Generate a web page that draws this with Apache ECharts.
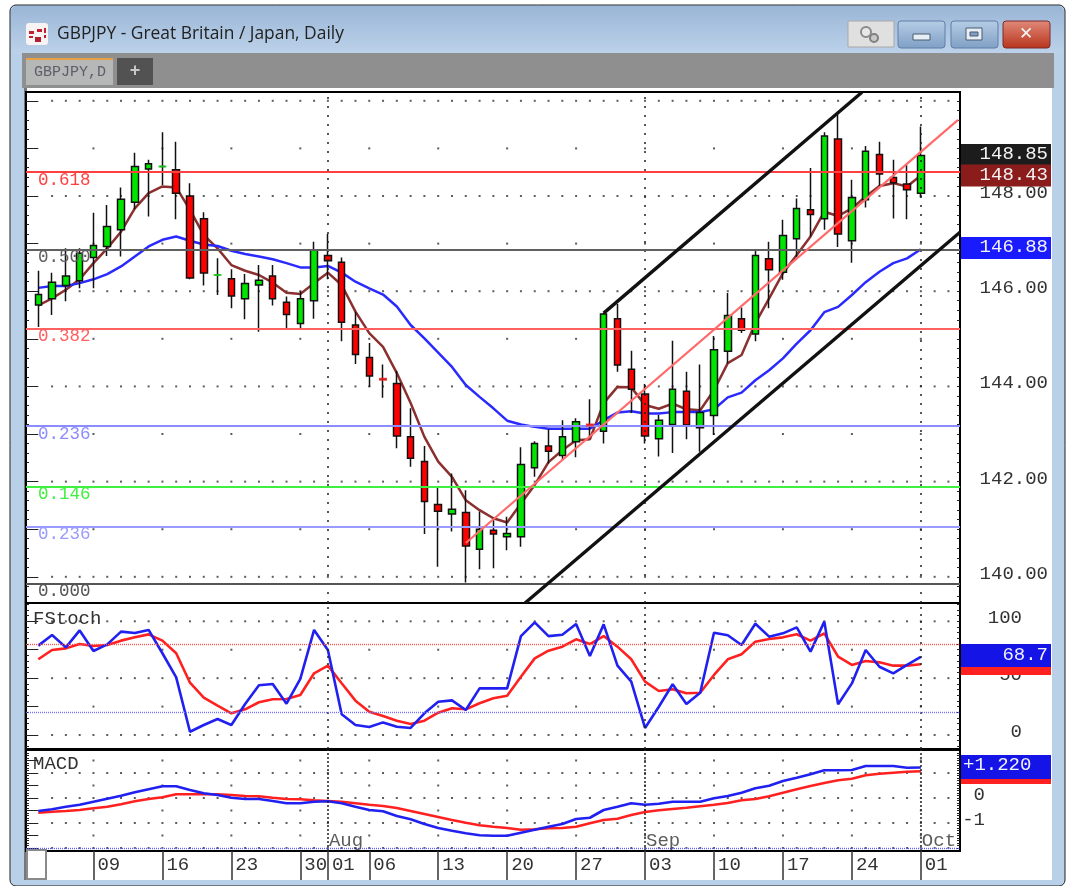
<!DOCTYPE html>
<html>
<head>
<meta charset="utf-8">
<style>
html, body { margin: 0; padding: 0; background: #fff; }
#chart { width: 1070px; height: 886px; }
</style>
<script src="https://cdn.jsdelivr.net/npm/echarts@6/dist/echarts.min.js"></script>
</head>
<body>
<div id="chart"></div>
<script>
// daily candles 3 Jul - 1 Oct, weekdays only
const opens = [145.71,145.84,146.12,146.22,146.71,146.94,147.29,147.87,148.57,148.62,
  148.55,148.00,147.52,146.34,146.26,145.84,146.13,146.32,145.77,145.32,
  145.80,146.75,146.61,145.29,144.61,144.15,144.06,142.94,142.42,141.52,
  141.32,141.35,140.58,140.98,140.84,140.84,142.29,142.75,142.55,142.84,
  143.19,143.06,145.42,144.36,143.84,142.90,143.20,143.90,143.13,143.39,
  144.74,145.42,145.10,146.68,146.40,147.10,147.71,147.52,149.20,147.06,
  147.92,148.87,148.39,148.25,148.06];
const closes = [145.93,146.19,146.32,146.80,146.96,147.36,147.93,148.62,148.68,148.62,
  148.06,146.28,146.38,146.34,145.90,146.16,146.23,145.84,145.51,145.84,
  146.87,146.64,145.35,144.67,144.22,144.15,142.96,142.49,141.58,141.38,
  141.42,140.65,141.00,140.90,140.91,142.36,142.80,142.64,142.94,143.26,
  143.19,145.52,144.45,143.94,142.96,143.29,143.94,143.19,143.45,144.77,
  145.49,145.18,146.75,146.45,147.17,147.74,147.61,149.26,147.20,147.97,
  148.94,148.46,148.28,148.13,148.85];
const highs = [146.43,146.39,146.90,146.90,147.65,147.81,148.18,148.91,148.76,149.34,
  149.14,148.27,147.66,146.69,146.46,146.36,146.55,146.55,145.89,146.00,
  147.04,147.20,146.71,145.57,144.91,144.46,144.33,143.54,142.75,141.89,
  142.17,141.82,141.37,141.24,141.26,142.72,142.85,143.10,143.29,143.33,
  143.73,145.55,145.73,144.75,144.05,143.40,144.96,144.31,144.46,145.06,
  145.96,145.66,146.87,147.04,147.50,147.95,148.59,149.34,149.74,148.34,
  149.05,149.14,148.76,148.65,149.46];
const lows = [145.25,145.50,145.79,146.06,146.06,146.74,146.73,147.72,147.57,148.23,
  147.51,146.25,146.12,145.92,145.64,145.41,145.15,145.70,145.22,145.22,
  145.42,146.25,144.95,144.47,143.99,143.76,142.70,142.31,140.90,140.21,
  140.95,139.88,140.16,140.18,140.56,140.63,142.10,142.38,142.45,142.51,
  142.94,142.80,144.31,143.44,142.80,142.53,142.60,142.89,142.63,142.98,
  144.48,145.12,144.95,145.64,146.24,146.72,147.15,147.29,146.93,146.60,
  147.76,148.21,147.53,147.51,147.97];
const maFast = [145.70,145.85,146.03,146.25,146.59,146.90,147.25,147.74,148.06,148.20,
  148.18,147.71,147.18,146.90,146.55,146.43,146.34,146.18,145.97,145.94,
  146.17,146.39,146.13,145.57,145.12,144.83,144.28,143.65,142.94,142.42,
  142.10,141.61,141.40,141.23,141.14,141.54,141.93,142.41,142.66,142.87,
  142.89,143.65,143.99,143.98,143.61,143.53,143.64,143.52,143.50,143.92,
  144.49,144.66,145.33,145.85,146.38,146.76,147.15,147.67,147.58,147.74,
  147.99,148.21,148.27,148.20,148.43];
const maSlow = [146.07,146.11,146.11,146.17,146.25,146.36,146.52,146.73,146.94,147.08,
  147.15,147.06,146.98,146.95,146.85,146.78,146.73,146.67,146.59,146.50,
  146.50,146.53,146.39,146.20,146.06,145.93,145.68,145.29,145.01,144.71,
  144.41,144.03,143.78,143.54,143.28,143.20,143.15,143.11,143.11,143.11,
  143.11,143.29,143.45,143.48,143.43,143.43,143.46,143.46,143.46,143.52,
  143.77,143.87,144.13,144.34,144.59,144.90,145.18,145.56,145.67,145.92,
  146.19,146.41,146.59,146.69,146.88];
const stochK = [78.6,88,77.1,92,73.9,79.7,90.9,89.7,92.4,71.9,
  50.7,2.9,8.8,14.1,8.8,27.3,43.7,44.9,27.6,49.3,
  92.4,74.8,18.2,8.8,7.0,11.1,7.3,6.2,19.1,29.3,
  30.5,22,41,41,41,87,99,87,88.2,97.6,
  69.5,97.3,61,46.9,6.2,24.9,44.6,27.3,37.2,90,
  87.7,79.2,97.9,86.5,89.4,94.7,73.3,99.7,27,45.4,
  74.8,60,54.2,61.6,68.7];
const stochD = [66.6,74.8,76.2,80,78.3,79.2,83,85.9,88.5,83,
  71.9,46,32.8,25.8,19.1,22.6,28.8,31.4,31.7,35.2,
  54.3,61,45.5,30.2,20.5,16.7,12.6,9.7,12.6,19.6,
  23.5,22.6,27.9,32.3,34.6,51.3,67.4,74.2,77.7,84.2,
  80,87,77.7,66.6,46.9,38.7,40.2,36.7,37.2,52.8,
  66.6,71,82.1,84.4,85.9,88.6,83,89.4,68.9,61.6,
  65.1,63.9,61,61,62.2];
const macdLine = [-0.52,-0.45,-0.35,-0.27,-0.15,-0.03,0.09,0.23,0.35,0.47,
  0.47,0.32,0.19,0.12,0.01,-0.04,-0.04,-0.12,-0.21,-0.21,
  -0.15,-0.13,-0.21,-0.35,-0.48,-0.53,-0.72,-0.85,-1.04,-1.2,
  -1.31,-1.41,-1.49,-1.51,-1.51,-1.39,-1.27,-1.15,-1.04,-0.84,
  -0.79,-0.48,-0.35,-0.21,-0.27,-0.23,-0.15,-0.15,-0.15,-0.01,
  0.08,0.21,0.39,0.49,0.68,0.81,0.95,1.11,1.11,1.12,
  1.28,1.28,1.28,1.21,1.22];
const macdSignal = [-0.59,-0.55,-0.52,-0.48,-0.41,-0.35,-0.25,-0.13,-0.04,0.03,
  0.15,0.15,0.15,0.15,0.12,0.08,0.07,0.01,-0.04,-0.05,
  -0.09,-0.12,-0.15,-0.21,-0.27,-0.32,-0.4,-0.52,-0.64,-0.76,
  -0.88,-0.99,-1.09,-1.15,-1.2,-1.27,-1.25,-1.21,-1.2,-1.15,
  -1.01,-0.88,-0.83,-0.68,-0.56,-0.49,-0.44,-0.39,-0.33,-0.27,
  -0.2,-0.09,-0.04,0.07,0.21,0.35,0.48,0.6,0.71,0.77,
  0.91,0.97,1.01,1.05,1.07];

const dateTicks = [4,9,14,19,21,24,29,34,39,44,49,54,59,64];
const dateLabels = ['09','16','23','30','01','06','13','20','27','03','10','17','24','01'];
const monthTicks = [21,44,64];
const monthNames = ['Aug','Sep','Oct'];

const fibValues = [148.50,146.87,145.22,143.17,141.90,141.05,139.86];
const fibLabels = ['0.618','0.500','0.382','0.236','0.146','0.236','0.000'];
const fibColors = ['#ff4040','#606060','#ff6060','#8c8cff','#40f040','#9a9aff','#555555'];

const trendPink = [[31,140.71],[66.7,149.6]];
const channelUpper = [[41,145.54],[59.73,150.18]];
const channelLower = [[35.3,139.45],[66.84,147.24]];

const priceLabels = [140,142,144,146,148];
const stochLabels = [0,50,100];
const macdLabels = [-1,0];

const X_MIN = -0.892, X_MAX = 66.84;
const MONO = '"Liberation Mono"';
const ink = '#333333';

function range(a, b, step) {
    const out = [];
    for (let v = a; v <= b + 1e-6; v += step) out.push(+v.toFixed(3));
    return out;
}

// one pane has four y axes: ticks long/short on both sides, first one carries labels
function paneAxes(grid, min, max, majors, minors, labels, margin, fmt) {
    const base = { type: 'value', gridIndex: grid, min: min, max: max, splitLine: { show: false }, axisLine: { show: false } };
    const tick = (vals, len) => ({ inside: true, length: len, customValues: vals, lineStyle: { color: '#222', width: 1 } });
    return [
        { ...base, position: 'right', axisTick: tick(majors, 8), axisLabel: {
            customValues: labels, inside: false, margin: margin, align: 'right', formatter: fmt,
            fontFamily: MONO, fontSize: 19, color: ink, verticalAlign: 'bottom', lineHeight: 6 } },
        { ...base, position: 'right', axisTick: tick(minors, 3), axisLabel: { show: false } },
        { ...base, position: 'left', axisTick: tick(majors, 8), axisLabel: { show: false } },
        { ...base, position: 'left', axisTick: tick(minors, 3), axisLabel: { show: false } }
    ];
}

function lineSeries(name, values, color, width, grid, yIdx) {
    return {
        name: name, type: 'line', xAxisIndex: grid, yAxisIndex: yIdx, showSymbol: false, silent: true,
        data: values.map((v, i) => [i, v]), lineStyle: { color: color, width: width }, itemStyle: { color: color }, z: 3
    };
}

function trendSeries(name, pts, color, width) {
    return {
        name: name, type: 'line', xAxisIndex: 0, yAxisIndex: 0, showSymbol: false, silent: true,
        data: pts, lineStyle: { color: color, width: width }, z: 6
    };
}

// dotted grid: a dot per bar on main rows, a dot per week on the in between rows
function dotSeries(rows, xs, grid, yIdx) {
    const data = [];
    rows.forEach(r => xs.forEach(x => data.push([x, r])));
    return {
        type: 'scatter', xAxisIndex: grid, yAxisIndex: yIdx, data: data, symbol: 'rect', symbolSize: 2,
        itemStyle: { color: '#333' }, silent: true, z: 1
    };
}

function monthLines(grid, yIdx, dash) {
    return {
        type: 'line', xAxisIndex: grid, yAxisIndex: yIdx, data: [], silent: true, z: 1,
        markLine: {
            silent: true, symbol: 'none', label: { show: false }, animation: false,
            lineStyle: { color: '#222', type: dash, width: 1.5 },
            data: monthTicks.map(t => ({ xAxis: t }))
        }
    };
}

function levelLine(grid, yIdx, value, color) {
    return {
        type: 'line', xAxisIndex: grid, yAxisIndex: yIdx, data: [], silent: true, z: 2,
        markLine: {
            silent: true, symbol: 'none', label: { show: false }, animation: false,
            lineStyle: { color: color, type: [1, 1], width: 1.4 },
            data: [{ yAxis: value }]
        }
    };
}

const everyBar = range(1, 66, 1);
const everyWeek = range(4, 64, 5);

const yAxes = [
    ...paneAxes(0, 139.45, 150.185, range(140, 150, 1), range(139.6, 150, 0.2), priceLabels, 88, v => v.toFixed(2)),
    ...paneAxes(1, -12.3, 116.1, range(0, 100, 25), range(-10, 115, 5), stochLabels, 62, v => String(v)),
    ...paneAxes(2, -2.12, 1.92, range(-2, 1.5, 0.5), range(-2, 1.8, 0.1), macdLabels, 25, v => String(v))
];

const xBase = { type: 'value', min: X_MIN, max: X_MAX, splitLine: { show: false }, axisLine: { show: false, onZero: false } };
const xAxes = [
    { ...xBase, gridIndex: 0, axisTick: { show: false }, axisLabel: { show: false } },
    { ...xBase, gridIndex: 1, axisTick: { show: false }, axisLabel: { show: false } },
    { ...xBase, gridIndex: 2, position: 'bottom',
      axisTick: { customValues: dateTicks, length: 29, lineStyle: { color: '#333', width: 1.5 } },
      axisLabel: {
          customValues: dateTicks, margin: 4, align: 'left', padding: [0, 0, 0, 4],
          fontFamily: MONO, fontSize: 19, color: ink,
          formatter: v => dateLabels[dateTicks.indexOf(v)]
      } }
];

const dojiGreen = [9, 13].map(i => [i, closes[i]]);
const dojiRed = [25, 40].map(i => [i, closes[i]]);

const series = [
    dotSeries(range(140, 150, 2), everyBar, 0, 0),
    dotSeries(range(141, 149, 2), everyWeek, 0, 0),
    monthLines(0, 0, [2, 7]),
    {
        type: 'line', xAxisIndex: 0, yAxisIndex: 0, data: [], silent: true, z: 2,
        markLine: {
            silent: true, symbol: 'none', animation: false,
            data: fibValues.map((v, i) => ({
                yAxis: v,
                lineStyle: { color: fibColors[i], type: 'solid', width: 2 },
                label: {
                    show: true, position: 'insideStartBottom', formatter: fibLabels[i], distance: [12, -1],
                    fontFamily: MONO, fontSize: 17.5, color: fibColors[i]
                }
            }))
        }
    },
    lineSeries('MA fast', maFast, '#8b2f2f', 2.5, 0, 0),
    lineSeries('MA slow', maSlow, '#2a2aff', 2.5, 0, 0),
    {
        name: 'GBPJPY', type: 'candlestick', xAxisIndex: 0, yAxisIndex: 0, barWidth: 7, silent: true, z: 4,
        data: closes.map((c, i) => [i, opens[i], c, lows[i], highs[i]]),
        itemStyle: { color: '#00e600', color0: '#ff0000', borderColor: '#111', borderColor0: '#111', borderWidth: 1.5 }
    },
    { type: 'scatter', xAxisIndex: 0, yAxisIndex: 0, data: dojiGreen, symbol: 'rect', symbolSize: [8, 2], itemStyle: { color: '#20e020' }, silent: true, z: 5 },
    { type: 'scatter', xAxisIndex: 0, yAxisIndex: 0, data: dojiRed, symbol: 'rect', symbolSize: [8, 3], itemStyle: { color: '#ff2020' }, silent: true, z: 5 },
    trendSeries('trend', trendPink, '#ff6a6a', 2.2),
    trendSeries('channel top', channelUpper, '#111', 3.4),
    trendSeries('channel bottom', channelLower, '#111', 3.4),

    dotSeries([0, 50, 100], everyBar, 1, 4),
    dotSeries([25, 75], everyWeek, 1, 4),
    monthLines(1, 4, [2, 5]),
    levelLine(1, 4, 80, '#ff5050'),
    levelLine(1, 4, 20, '#7070ff'),
    lineSeries('FStoch D', stochD, '#ff2020', 2.6, 1, 4),
    lineSeries('FStoch K', stochK, '#2020f0', 2.6, 1, 4),

    dotSeries([-2, -1, 0, 1], everyBar, 2, 8),
    dotSeries([-1.5, -0.5, 0.5, 1.5], everyWeek, 2, 8),
    monthLines(2, 8, [2, 2]),
    levelLine(2, 8, -2, '#6060ff'),
    lineSeries('MACD signal', macdSignal, '#ff2020', 2.6, 2, 8),
    lineSeries('MACD', macdLine, '#2020f0', 2.6, 2, 8),
    {
        type: 'scatter', xAxisIndex: 2, yAxisIndex: 8, symbolSize: 0, silent: true, z: 6,
        data: monthTicks.map(t => [t, -1.72]),
        label: {
            show: true, position: 'right', distance: 1, fontFamily: MONO, fontSize: 19, color: ink,
            formatter: p => monthNames[p.dataIndex]
        }
    }
];

// window chrome + last value tags
const grad = (a, b) => new echarts.graphic.LinearGradient(0, 0, 0, 1, [{ offset: 0, color: a }, { offset: 1, color: b }]);
const rect = (x, y, w, h, fill, extra) => ({
    type: 'rect', silent: true, z: (extra && extra.z) || -10, shape: { x: x, y: y, width: w, height: h, r: (extra && extra.r) || 0 },
    style: { fill: fill, stroke: (extra && extra.stroke) || null, lineWidth: (extra && extra.lw) || 1 }
});
const text = (x, y, t, font, color, z, align) => ({
    type: 'text', silent: true, z: z || 5, x: x, y: y,
    style: { text: t, font: font, fill: color, align: align || 'left', verticalAlign: 'middle' }
});
const monoFont = s => s + 'px ' + MONO;
const tags = [
    ['148.85', 155, '#1c1c1c'],
    ['148.43', 175.5, '#8b1c1c'],
    ['146.88', 248, '#1a1aff']
];

const chrome = [
    rect(10, 5, 1055, 881, '#b9d0e9', { r: 6, stroke: '#222' }),
    rect(11, 6, 1053, 48, grad('#9ab6d6', '#bdd2ea'), { r: 6 }),
    rect(22, 53, 1032, 35, '#8f8f8f'),
    rect(24, 88, 1028, 792, '#ffffff'),
    rect(24, 88, 3, 792, '#777'),
    rect(26, 58, 87, 27, '#b6b8b8'),
    rect(26, 58, 87, 2, '#e8a040', { z: -9 }),
    rect(117, 58, 36, 27, '#525252'),
    text(34, 72, 'GBPJPY,D', monoFont(15), '#5a6068', 5),
    text(135, 71, '+', 'bold 18px "Liberation Sans"', '#c8c8c8', 5, 'center'),

    rect(26, 23, 22, 22, '#f8f4f4', { r: 3 }),
    rect(29, 31, 5, 3, '#c02030', { z: -8 }), rect(37, 29, 5, 3, '#c02030', { z: -8 }), rect(44, 28, 2, 5, '#c02030', { z: -8 }),
    rect(29, 36, 4, 2, '#c02030', { z: -8 }), rect(35, 37, 6, 5, '#b02030', { z: -8 }), rect(44, 35, 2, 3, '#c02030', { z: -8 }),

    rect(848, 21, 46, 26, '#e0e0e0', { stroke: '#a8a8a8' }),
    { type: 'circle', silent: true, z: -8, shape: { cx: 866, cy: 32, r: 5 }, style: { fill: '#e8e8e8', stroke: '#8a8a8a', lineWidth: 2 } },
    { type: 'circle', silent: true, z: -8, shape: { cx: 874, cy: 38, r: 4 }, style: { fill: '#c8c8c8', stroke: '#808080', lineWidth: 2 } },
    rect(898, 21, 47, 27, grad('#b6cde6', '#7f9fc4'), { r: 3, stroke: '#5f7fa8' }),
    rect(913, 34, 17, 6, '#e8eef6', { stroke: '#4a5a70', z: -8 }),
    rect(951, 21, 47, 27, grad('#b6cde6', '#7f9fc4'), { r: 3, stroke: '#5f7fa8' }),
    rect(966, 28, 16, 12, '#e8eef6', { stroke: '#4a5a70', z: -8 }),
    rect(970, 32, 8, 4, '#7f9fc4', { stroke: '#4a5a70', z: -7 }),
    rect(1003, 21, 47, 27, grad('#e08a7a', '#b8341c'), { r: 3, stroke: '#7c2a2a' }),
    text(1026, 35, '✕', 'bold 17px "DejaVu Sans"', '#f4f4f4', -7, 'center'),

    rect(27, 850, 19, 29, '#ffffff', { stroke: '#8a8a8a', lw: 2, z: 4 }),

    text(33, 619, 'FStoch', monoFont(19), ink, 6),
    text(33, 764, 'MACD', monoFont(19), ink, 6),

    // stacked tags at the right of the panes
    rect(961, 667, 90, 8, '#ff2020', { z: 8 }),
    rect(961, 644, 90, 23, '#1414e6', { z: 8 }),
    text(1048, 655, '68.7', monoFont(19), '#f0f0ff', 9, 'right'),
    rect(961, 779, 90, 5, '#ff2020', { z: 8 }),
    rect(961, 755, 90, 24, '#1414e6', { z: 8 }),
    text(963, 765, '+1.220', monoFont(19), '#f0f0ff', 9, 'left')
];
tags.forEach(t => {
    chrome.push(rect(961, t[1] - 11, 90, 22, t[2], { z: 8 }));
    chrome.push(text(1048, t[1] - 1, t[0], monoFont(19), '#f2f2f2', 9, 'right'));
});

const myChart = echarts.init(document.getElementById('chart'));
myChart.setOption({
    animation: false,
    backgroundColor: '#ffffff',
    title: {
        text: 'GBPJPY - Great Britain / Japan, Daily', left: 52, top: 21,
        textStyle: { fontFamily: '"Open Sans"', fontSize: 17.4, fontWeight: 'normal', color: '#222' }
    },
    grid: [
        { left: 26, right: 110, top: 92, height: 511, show: true, borderColor: '#000', borderWidth: 2, backgroundColor: '#fff' },
        { left: 26, right: 110, top: 603, height: 146, show: true, borderColor: '#000', borderWidth: 2, backgroundColor: '#fff' },
        { left: 26, right: 110, top: 750, height: 101, show: true, borderColor: '#000', borderWidth: 2, backgroundColor: '#fff' }
    ],
    xAxis: xAxes,
    yAxis: yAxes,
    series: series,
    graphic: chrome
});
</script>
</body>
</html>
